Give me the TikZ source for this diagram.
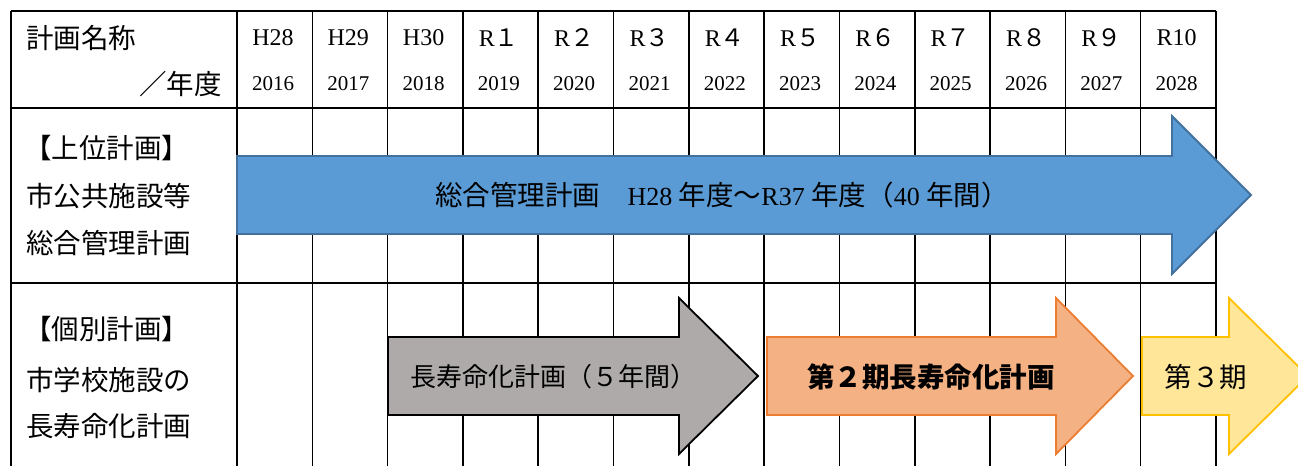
\documentclass[tikz,border=0pt]{standalone}
\usepackage{fontspec}
\setmainfont{Liberation Serif}
\newfontfamily\jp{Noto Sans CJK JP}
\definecolor{bluefill}{HTML}{5B9BD5}
\definecolor{blueline}{HTML}{41719C}
\definecolor{grayfill}{HTML}{AEAAAA}
\definecolor{orangefill}{HTML}{F4B183}
\definecolor{orangeline}{HTML}{ED7D31}
\definecolor{yellowfill}{HTML}{FFE699}
\definecolor{yellowline}{HTML}{FFC000}
\tikzset{
  grid/.style={line width=1.6pt, black},
  arr/.style={line width=1.8pt, line join=miter},
  jtxt/.style={font=\jp\fontsize{27.5}{32}\selectfont, inner sep=0pt},
  era/.style={font=\fontsize{24}{28}\selectfont, inner sep=0pt},
  yr/.style={font=\fontsize{21}{24}\selectfont, inner sep=0pt},
}
\begin{document}
\begin{tikzpicture}[x=1pt,y=-1pt]
\useasboundingbox (0,0) rectangle (1298,466);
\clip (0,0) rectangle (1298,466);
\fill[white] (0,0) rectangle (1298,466);
% grid
\draw[grid] (11,11) -- (1216,11);
\draw[grid] (11,108) -- (1216,108);
\draw[grid] (11,283) -- (1216,283);
\draw[grid] (11,11) -- (11,466);
\foreach \i in {0,...,13} {
  \draw[grid] ({237+75.3*\i},11) -- ({237+75.3*\i},466);
}
% header
\node[jtxt, anchor=west] (hname) at (26,38) {計画名称};
\node[jtxt, anchor=east] (hyear) at (222,84) {／年度};
\foreach \e/\y [count=\i from 0] in {H28/2016,H29/2017,H30/2018,R{\jp １}/2019,R{\jp ２}/2020,R{\jp ３}/2021,R{\jp ４}/2022,R{\jp ５}/2023,R{\jp ６}/2024,R{\jp ７}/2025,R{\jp ８}/2026,R{\jp ９}/2027,R10/2028} {
  \node[era] (e\i) at ({237+75.3*\i+36},38) {\e};
  \node[yr] (y\i) at ({237+75.3*\i+36},84) {\y};
}
% row labels
\node[jtxt, anchor=west] (l1a) at (24,148) {【上位計画】};
\node[jtxt, anchor=west] (l1b) at (26,196) {市公共施設等};
\node[jtxt, anchor=west] (l1c) at (26,243) {総合管理計画};
\node[jtxt, anchor=west] (l2a) at (24,329) {【個別計画】};
\node[jtxt, anchor=west] (l2b) at (26,380) {市学校施設の};
\node[jtxt, anchor=west] (l2c) at (26,426) {長寿命化計画};
% arrows
\draw[arr, fill=bluefill, draw=blueline] (237,156) -- (1172,156) -- (1172,116) -- (1251,195) -- (1172,274) -- (1172,234) -- (237,234) -- cycle;
\node[jtxt] (ta) at (722,195) {総合管理計画　{\rmfamily\fontsize{26}{30}\selectfont H28 }年度～{\rmfamily\fontsize{26}{30}\selectfont R37 }年度（{\rmfamily\fontsize{26}{30}\selectfont 40 }年間）};
\draw[arr, fill=grayfill, draw=black] (388,337) -- (679,337) -- (679,298) -- (758,376) -- (679,454) -- (679,415) -- (388,415) -- cycle;
\node[jtxt, font=\jp\fontsize{26}{30}\selectfont] (tb) at (553,377) {長寿命化計画（５年間）};
\draw[arr, fill=orangefill, draw=orangeline] (767,337) -- (1056,337) -- (1056,298) -- (1133,376) -- (1056,454) -- (1056,415) -- (767,415) -- cycle;
\node[jtxt, font=\jp\bfseries\fontsize{27.5}{32}\selectfont] (tc) at (931,377) {第２期長寿命化計画};
\draw[arr, fill=yellowfill, draw=yellowline] (1142,337) -- (1229,337) -- (1229,298) -- (1308,376) -- (1229,454) -- (1229,415) -- (1142,415) -- cycle;
\node[jtxt] (td) at (1206,377) {第３期};
\end{tikzpicture}
\end{document}
